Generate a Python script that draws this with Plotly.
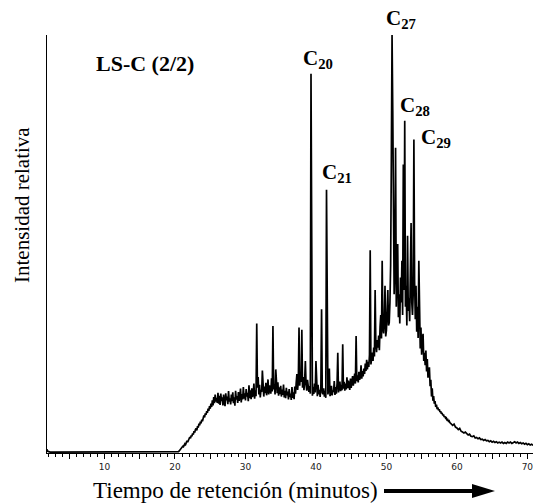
import plotly.graph_objects as go

# ---------------- data ----------------
# flat start of the run
times_pre = [1.84, 1.95, 2.3, 12.0, 19.9]
signal_pre = [0.9, 0.4, 0.2, 0.2, 0.25]

# main scan: 20.0 .. 58.9 min, one reading every 0.1 min (rows = one minute)
scan_start = 20.0
scan_step = 0.1
signal_main = [
    0.25, 0.25, 0.25, 0.3, 0.3, 0.35, 0.5, 0.7, 0.9, 1.1,         # 20
    1.3, 1.6, 1.5, 2.0, 2.2, 2.0, 2.7, 2.9, 2.6, 3.3,             # 21
    3.4, 3.8, 3.5, 4.2, 4.0, 4.7, 4.4, 5.2, 4.9, 5.6,             # 22
    5.9, 5.4, 6.4, 6.1, 7.0, 6.6, 7.5, 7.1, 8.0, 7.6,             # 23
    8.4, 9.0, 8.5, 9.5, 9.1, 10.0, 9.6, 10.6, 10.1, 11.2,         # 24
    10.6, 11.8, 11.0, 12.6, 11.4, 13.4, 11.9, 14.0, 12.3, 13.2,   # 25
    12.0, 14.4, 11.8, 13.7, 11.5, 14.2, 12.4, 13.3, 11.4, 14.0,   # 26
    12.2, 11.2, 14.3, 12.6, 13.5, 11.7, 14.8, 12.3, 13.1, 11.6,   # 27
    14.0, 12.4, 14.5, 11.9, 13.3, 11.3, 14.9, 12.8, 13.6, 12.0,   # 28
    14.6, 12.5, 13.4, 15.4, 12.1, 14.1, 12.8, 15.8, 13.0, 14.3,   # 29
    12.6, 15.3, 13.5, 14.4, 12.4, 16.2, 13.1, 15.0, 12.9, 15.5,   # 30
    13.4, 14.2, 16.6, 13.0, 15.0, 13.6, 31.0, 15.6, 18.2, 14.0,   # 31
    16.3, 13.3, 15.1, 14.6, 19.7, 17.2, 13.5, 15.9, 14.3, 16.8,   # 32
    13.8, 15.3, 17.6, 14.0, 16.2, 15.1, 14.2, 17.9, 14.7, 30.4,   # 33
    15.2, 16.5, 14.0, 20.0, 15.1, 14.3, 16.9, 13.7, 15.7, 14.1,   # 34
    16.1, 13.5, 15.2, 13.9, 16.4, 13.3, 14.9, 13.1, 15.6, 13.8,   # 35
    14.7, 12.8, 15.3, 13.4, 14.2, 12.7, 15.8, 13.2, 14.5, 12.9,   # 36
    15.9, 14.2, 16.8, 18.9, 15.1, 17.2, 30.0, 16.1, 19.3, 17.0,   # 37
    29.5, 15.6, 18.2, 15.0, 17.3, 22.0, 16.4, 14.9, 17.5, 15.2,   # 38
    14.6, 16.0, 14.2, 90.7, 15.0, 13.7, 15.8, 14.1, 16.6, 14.5,   # 39
    22.0, 15.2, 13.6, 16.3, 14.0, 15.1, 13.4, 16.0, 34.4, 14.4,   # 40
    14.1, 15.5, 13.5, 14.9, 13.2, 63.0, 16.4, 14.0, 15.3, 20.2,   # 41
    13.6, 14.3, 16.1, 13.8, 15.0, 14.6, 17.2, 13.9, 15.8, 14.2,   # 42
    16.7, 24.0, 14.5, 15.9, 17.1, 14.8, 16.3, 15.0, 26.0, 15.4,   # 43
    17.0, 14.9, 16.6, 15.2, 18.1, 15.5, 17.3, 16.0, 15.1, 17.8,   # 44
    15.6, 16.9, 18.4, 16.1, 17.5, 19.0, 16.6, 28.0, 17.2, 18.6,   # 45
    16.9, 19.4, 17.5, 18.2, 21.0, 17.8, 19.6, 18.3, 20.2, 18.9,   # 46
    21.4, 19.6, 22.3, 20.0, 21.8, 20.6, 23.5, 48.5, 21.2, 22.4,   # 47
    24.0, 22.0, 25.2, 23.1, 39.0, 26.0, 24.1, 27.0, 25.2, 28.1,   # 48
    24.6, 30.2, 33.0, 27.4, 46.0, 29.8, 28.6, 31.5, 40.0, 27.9,   # 49
    29.3, 33.8, 39.0, 30.5, 31.2, 36.0, 45.0, 70.0, 100.0, 82.0,  # 50
    48.0, 38.0, 44.0, 73.0, 35.0, 41.0, 50.0, 32.5, 38.0, 31.0,   # 51
    42.0, 36.0, 46.0, 33.0, 69.0, 39.0, 79.5, 35.0, 40.0, 30.5,   # 52
    52.0, 34.0, 37.0, 31.5, 44.0, 55.0, 36.0, 33.0, 38.0, 75.0,   # 53
    41.0, 32.0, 40.0, 29.0, 35.0, 27.5, 46.0, 33.0, 25.0, 30.0,   # 54
    23.5, 27.0, 28.5, 22.0, 24.0, 21.0, 24.5, 19.5, 22.5, 18.0,   # 55
    20.0, 20.5, 16.0, 17.5, 13.5, 15.5, 12.5, 13.6, 11.8, 12.4,   # 56
    11.0, 11.6, 10.5, 10.9, 10.2, 10.5, 9.8, 10.0, 9.4, 9.6,      # 57
    9.0, 9.2, 8.6, 8.8, 8.3, 8.4, 7.9, 8.0, 7.6, 7.7,             # 58
]

# tail of the run: from 59.0 min, one reading every 0.2 min
tail_start = 59.0
tail_step = 0.2
signal_tail = [
    7.3, 7.0, 6.6, 6.9, 6.2, 6.0, 5.6, 5.9, 5.2, 5.0,
    4.8, 5.0, 4.5, 4.3, 4.5, 4.0, 3.9, 4.1, 3.6, 3.7,
    3.4, 3.6, 3.2, 3.3, 3.0, 3.2, 2.9, 3.0, 2.7, 2.9,
    2.6, 2.8, 2.5, 2.7, 2.4, 2.6, 2.4, 2.6, 2.3, 2.5,
    2.3, 2.6, 2.4, 2.6, 2.3, 2.5, 2.7, 2.4, 2.6, 2.3,
    2.5, 2.2, 2.4, 2.1, 2.3, 2.0, 2.2, 1.9, 2.1, 1.8,
]

# labelled n-alkane peaks
peak_names = ["C<sub>20</sub>", "C<sub>21</sub>", "C<sub>27</sub>", "C<sub>28</sub>", "C<sub>29</sub>"]
peak_times = [39.3, 41.5, 50.8, 52.6, 53.9]
peak_heights = [90.7, 63.0, 100.0, 79.5, 75.0]

sample_label = "LS-C (2/2)"
x_title = "Tiempo de retención (minutos)"
y_title = "Intensidad relativa"
x_tick_vals = [5, 10, 15, 20, 25, 30, 35, 40, 45, 50, 55, 60, 65, 70]
x_tick_text = ["", "10", "", "20", "", "30", "", "40", "", "50", "", "60", "", "70"]

# ---------------- build series ----------------
times_main = [round(scan_start + i * scan_step, 2) for i in range(len(signal_main))]
times_tail = [round(tail_start + i * tail_step, 2) for i in range(len(signal_tail))]
t_all = times_pre + times_main + times_tail
y_all = signal_pre + signal_main + signal_tail

serif = "Liberation Serif, Times New Roman, serif"

fig = go.Figure()
fig.add_trace(go.Scatter(
    x=t_all, y=y_all, mode="lines",
    line=dict(color="black", width=1.7),
    hoverinfo="skip", showlegend=False,
))

# plot-area geometry (pixels) used only for decorations
W, H = 533, 504
L, R, T, B = 47, 0, 35, 51
pw, ph = W - L - R, H - T - B

def px2paper(px, py):
    return (px - L) / pw, (H - B - py) / ph

annotations = []
label_offsets = [(7, 15), (10, 17), (9, 16), (10, 15), (22, 2)]
for name, t, h, (dx, dy) in zip(peak_names, peak_times, peak_heights, label_offsets):
    annotations.append(dict(
        x=t, y=h, xref="x", yref="y", text="<b>" + name + "</b>",
        showarrow=False, xanchor="center", yanchor="middle",
        xshift=dx, yshift=dy,
        font=dict(family=serif, size=21, color="black"),
    ))

sx, sy = px2paper(145, 64)
annotations.append(dict(
    x=sx, y=sy, xref="paper", yref="paper", text="<b>" + sample_label + "</b>",
    showarrow=False, xanchor="center", yanchor="middle",
    font=dict(family=serif, size=22, color="black"),
))
tx, ty = px2paper(235, 491)
annotations.append(dict(
    x=tx, y=ty, xref="paper", yref="paper", text=x_title,
    showarrow=False, xanchor="center", yanchor="middle",
    font=dict(family=serif, size=23, color="black"),
))
yx, yy = px2paper(22, 205)
annotations.append(dict(
    x=yx, y=yy, xref="paper", yref="paper", text=y_title, textangle=-90,
    showarrow=False, xanchor="center", yanchor="middle",
    font=dict(family=serif, size=21, color="black"),
))

# arrow after the x-axis title
a0x, a0y = px2paper(384, 491)
a1x, _ = px2paper(472, 491)
hx, _ = px2paper(495, 491)
_, hy0 = px2paper(0, 484)
_, hy1 = px2paper(0, 498)
shapes = [
    dict(type="line", xref="paper", yref="paper", x0=a0x, y0=a0y, x1=a1x, y1=a0y,
         line=dict(color="black", width=4)),
    dict(type="path", xref="paper", yref="paper",
         path=f"M {a1x} {hy0} L {hx} {a0y} L {a1x} {hy1} Z",
         fillcolor="black", line=dict(color="black", width=0)),
]

fig.update_layout(
    width=W, height=H,
    margin=dict(l=L, r=R, t=T, b=B, pad=0),
    paper_bgcolor="white", plot_bgcolor="white",
    annotations=annotations, shapes=shapes,
    xaxis=dict(
        range=[1.84, 70.8], showgrid=False, zeroline=False,
        showline=True, linecolor="black", linewidth=1,
        ticks="outside", tickvals=x_tick_vals, ticktext=x_tick_text,
        ticklen=5, tickwidth=1, tickcolor="black",
        ticklabeloverflow="allow",
        tickfont=dict(family="DejaVu Sans", size=9, color="#222"),
        minor=dict(ticks="outside", dtick=1, tick0=0, ticklen=3, tickcolor="black", tickwidth=1),
    ),
    yaxis=dict(
        range=[0, 100], showgrid=False, zeroline=False,
        showline=True, linecolor="black", linewidth=1,
        showticklabels=False, ticks="",
    ),
)

fig.write_html("out.html")
